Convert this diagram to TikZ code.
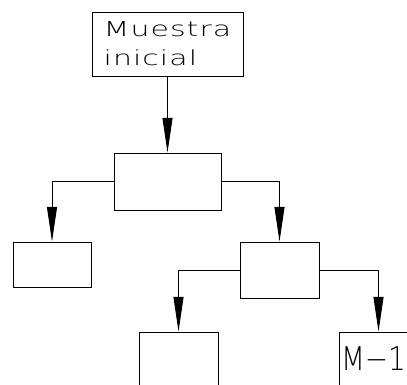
\documentclass[tikz,border=0pt]{standalone}
\usepackage{fontspec}
\newfontfamily\cadfont[FakeStretch=1.45,LetterSpace=5]{DejaVu Sans ExtraLight}
\newfontfamily\cadlabel[FakeStretch=0.85]{DejaVu Sans ExtraLight}
\usetikzlibrary{arrows.meta}

\begin{document}
\begin{tikzpicture}[x=0.75pt,y=-0.75pt,line width=0.65pt,
  blk/.style={draw,rectangle,inner sep=0pt},
  ar/.style={-{Triangle[length=26pt,width=7.5pt]}}]
\useasboundingbox (0,0) rectangle (407,385);
\clip (0,0) rectangle (407,385);
% sample tree
\node[blk,minimum width=113.25pt,minimum height=48pt,align=left,
  font=\cadfont\fontsize{15.5}{21.75}\selectfont] (ini) at (167.5,44) {Muestra\\inicial};
\node[blk,minimum width=80.25pt,minimum height=42.75pt] (mid) at (167.5,181.5) {};
\node[blk,minimum width=58.5pt,minimum height=33.75pt] (lft) at (52,264.5) {};
\node[blk,minimum width=59.25pt,minimum height=42pt] (rgt) at (279.5,270) {};
\node[blk,minimum width=59.25pt,minimum height=75pt] (bl) at (178.5,382) {};
\node[blk,minimum width=59.25pt,minimum height=75pt] (br) at (378.5,382) {};
\node[anchor=north west,inner sep=0pt,font=\cadlabel\fontsize{24.5}{28}\selectfont]
  (mlab) at ([xshift=1.5pt,yshift=-11pt]br.north west) {M−1};
\draw[ar] (ini) -- (mid);
\draw[ar] (mid.west) -| (lft.north);
\draw[ar] (mid.east) -| (rgt.north);
\draw[ar] (rgt.west) -| (bl.north);
\draw[ar] (rgt.east) -| (br.north);
\end{tikzpicture}
\end{document}
